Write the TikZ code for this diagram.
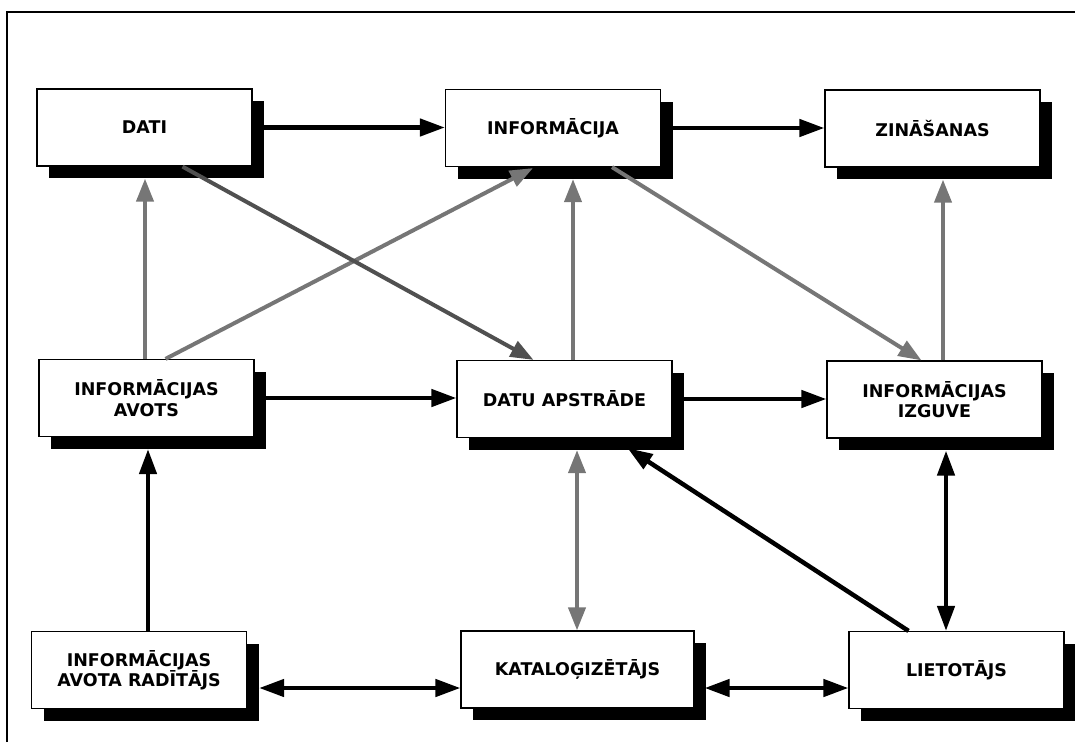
\documentclass[tikz,border=0pt]{standalone}
\usepackage{fontspec}
\setmainfont{DejaVu Sans}
\usetikzlibrary{arrows.meta,calc,shadows}
\definecolor{agray}{RGB}{118,118,118}
\definecolor{dgray}{RGB}{80,80,80}
\begin{document}
\begin{tikzpicture}[x=1pt,y=-1pt,
  box/.style={draw=black, line width=1.2pt, fill=white, minimum width=215pt, minimum height=77pt,
    inner sep=2pt, align=center, font=\fontsize{17.5}{20.5}\selectfont\bfseries,
    drop shadow={shadow xshift=12pt, shadow yshift=-12pt, fill=black, opacity=1}},
  blk/.style={line width=4.5pt, draw=black, -{Triangle[length=25pt,width=17pt]}},
  blkboth/.style={line width=4.5pt, draw=black, {Triangle[length=25pt,width=17pt]}-{Triangle[length=25pt,width=17pt]}},
  gry/.style={line width=4pt, draw=agray, -{Triangle[length=23pt,width=17pt]}},
  gryboth/.style={line width=4pt, draw=agray, {Triangle[length=23pt,width=17pt]}-{Triangle[length=23pt,width=17pt]}},
  dgr/.style={line width=4pt, draw=dgray, -{Triangle[length=23pt,width=17pt]}}
]
\useasboundingbox (0,0) rectangle (1075,742);
\draw[line width=2pt] (7,742) -- (7,12) -- (1075,12);

\node[box] (dati) at (144.5,127.5) {DATI};
\node[box] (info) at (553,128) {INFORMĀCIJA};
\node[box] (zin) at (932.5,128.5) {ZINĀŠANAS};
\node[box] (avots) at (146.5,398) {INFORMĀCIJAS\\AVOTS};
\node[box] (datu) at (564.5,399) {DATU APSTRĀDE};
\node[box] (izg) at (934.5,399.5) {INFORMĀCIJAS\\IZGUVE};
\node[box] (rad) at (139,670) {INFORMĀCIJAS\\AVOTA RADĪTĀJS};
\node[box, minimum width=233pt] (kat) at (577.5,669.5) {KATALOĢIZĒTĀJS};
\node[box] (liet) at (956.5,670) {LIETOTĀJS};

% horizontal black arrows
\draw[blk] (dati.east) -- (dati.east -| info.west);
\draw[blk] (info.east) -- (info.east -| zin.west);
\draw[blk] (avots.east) -- (avots.east -| datu.west);
\draw[blk] (datu.east) -- (datu.east -| izg.west);
\draw[blkboth] ($(rad.east)+(12,18)$) -- ($(kat.west)+(0,18.5)$);
\draw[blkboth] ($(kat.east)+(10,18.5)$) -- ($(liet.west)+(0,18)$);

% gray arrows
\coordinate (d1) at ($(dati.south)+(0.5,12)$);
\draw[gry] (avots.north -| d1) -- (d1);
\draw[gry] ($(avots.north)+(19,0)$) -- ($(info.south)+(-20,1)$);
\coordinate (i1) at ($(info.south)+(20,12)$);
\draw[gry] (datu.north -| i1) -- (i1);
\draw[gry] ($(info.south)+(59,0)$) -- ($(izg.north)+(-13,0)$);
\coordinate (z1) at ($(zin.south)+(10.5,12)$);
\draw[gry] (izg.north -| z1) -- (z1);
\coordinate (k1) at ($(datu.south)+(12.5,12)$);
\draw[gryboth] (k1) -- (kat.north -| k1);

% dark arrow
\draw[dgr] ($(dati.south)+(38,0)$) -- ($(datu.north)+(-31,0)$);

% black arrows
\coordinate (l1) at ($(izg.south)+(11.5,12)$);
\draw[blkboth] (l1) -- (liet.north -| l1);
\draw[blk] ($(liet.north)+(-48,0)$) -- ($(datu.south)+(63,10)$);
\coordinate (a1) at ($(avots.south)+(1.5,12)$);
\draw[blk] (rad.north -| a1) -- (a1);
\end{tikzpicture}
\end{document}
